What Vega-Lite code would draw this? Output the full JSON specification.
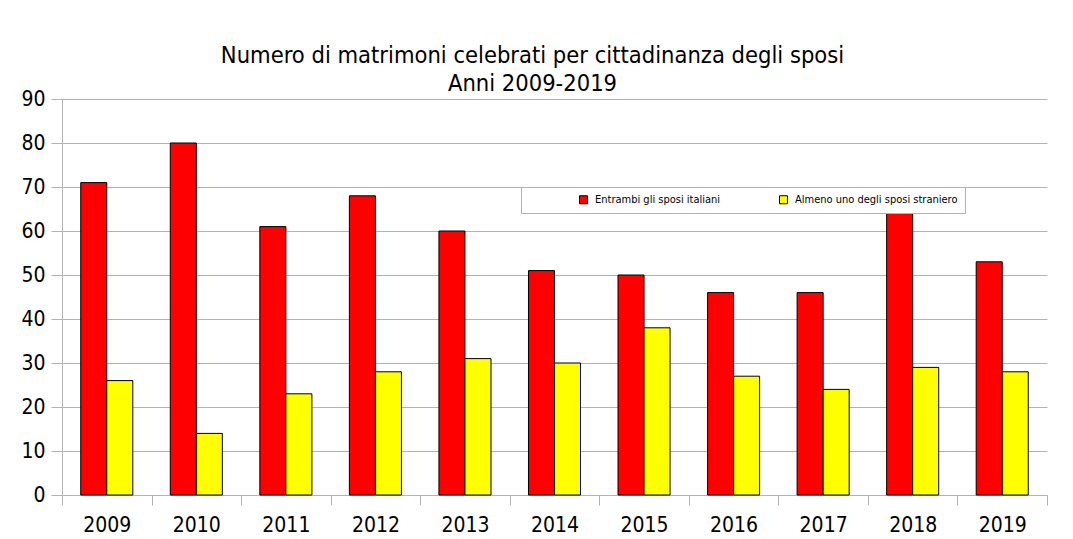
{
  "$schema": "https://vega.github.io/schema/vega-lite/v6.json",
  "width": 985,
  "height": 396,
  "autosize": {"type": "none"},
  "padding": {"left": 62, "top": 99, "right": 26, "bottom": 44},
  "background": "white",
  "title": {
    "text": ["Numero di matrimoni celebrati per cittadinanza degli sposi", "Anni 2009-2019"],
    "font": "DejaVu Sans Condensed",
    "fontSize": 23.5,
    "fontWeight": "normal",
    "color": "black",
    "lineHeight": 28,
    "offset": -7,
    "anchor": "middle",
    "dx": -22
  },
  "data": {
    "values": [
      {"anno": "2009", "gruppo": "Entrambi gli sposi italiani", "valore": 71},
      {"anno": "2009", "gruppo": "Almeno uno degli sposi straniero", "valore": 26},
      {"anno": "2010", "gruppo": "Entrambi gli sposi italiani", "valore": 80},
      {"anno": "2010", "gruppo": "Almeno uno degli sposi straniero", "valore": 14},
      {"anno": "2011", "gruppo": "Entrambi gli sposi italiani", "valore": 61},
      {"anno": "2011", "gruppo": "Almeno uno degli sposi straniero", "valore": 23},
      {"anno": "2012", "gruppo": "Entrambi gli sposi italiani", "valore": 68},
      {"anno": "2012", "gruppo": "Almeno uno degli sposi straniero", "valore": 28},
      {"anno": "2013", "gruppo": "Entrambi gli sposi italiani", "valore": 60},
      {"anno": "2013", "gruppo": "Almeno uno degli sposi straniero", "valore": 31},
      {"anno": "2014", "gruppo": "Entrambi gli sposi italiani", "valore": 51},
      {"anno": "2014", "gruppo": "Almeno uno degli sposi straniero", "valore": 30},
      {"anno": "2015", "gruppo": "Entrambi gli sposi italiani", "valore": 50},
      {"anno": "2015", "gruppo": "Almeno uno degli sposi straniero", "valore": 38},
      {"anno": "2016", "gruppo": "Entrambi gli sposi italiani", "valore": 46},
      {"anno": "2016", "gruppo": "Almeno uno degli sposi straniero", "valore": 27},
      {"anno": "2017", "gruppo": "Entrambi gli sposi italiani", "valore": 46},
      {"anno": "2017", "gruppo": "Almeno uno degli sposi straniero", "valore": 24},
      {"anno": "2018", "gruppo": "Entrambi gli sposi italiani", "valore": 65},
      {"anno": "2018", "gruppo": "Almeno uno degli sposi straniero", "valore": 29},
      {"anno": "2019", "gruppo": "Entrambi gli sposi italiani", "valore": 53},
      {"anno": "2019", "gruppo": "Almeno uno degli sposi straniero", "valore": 28}
    ]
  },
  "mark": {"type": "bar", "stroke": "black", "strokeWidth": 1},
  "encoding": {
    "x": {
      "field": "anno",
      "type": "nominal",
      "scale": {"paddingInner": 0, "paddingOuter": 0},
      "axis": {
        "title": null,
        "labelAngle": 0,
        "tickBand": "extent",
        "tickSize": 10,
        "tickColor": "#b3b3b3",
        "domainColor": "#b3b3b3",
        "labelFont": "DejaVu Sans Condensed",
        "labelFontSize": 21,
        "labelColor": "black",
        "labelPadding": 9,
        "grid": false
      }
    },
    "xOffset": {
      "field": "gruppo",
      "type": "nominal",
      "sort": ["Entrambi gli sposi italiani", "Almeno uno degli sposi straniero"],
      "scale": {"paddingInner": 0, "paddingOuter": 0.72}
    },
    "y": {
      "field": "valore",
      "type": "quantitative",
      "scale": {"domain": [0, 90], "nice": false},
      "axis": {
        "title": null,
        "values": [0, 10, 20, 30, 40, 50, 60, 70, 80, 90],
        "tickSize": 11,
        "tickColor": "#b3b3b3",
        "domainColor": "#b3b3b3",
        "gridColor": "#b3b3b3",
        "labelFont": "DejaVu Sans Condensed",
        "labelFontSize": 21,
        "labelColor": "black",
        "labelPadding": 6
      }
    },
    "color": {
      "field": "gruppo",
      "type": "nominal",
      "sort": ["Entrambi gli sposi italiani", "Almeno uno degli sposi straniero"],
      "scale": {
        "domain": ["Entrambi gli sposi italiani", "Almeno uno degli sposi straniero"],
        "range": ["#ff0000", "#ffff00"]
      },
      "legend": {
        "title": null,
        "orient": "none",
        "legendX": 459,
        "legendY": 88,
        "direction": "horizontal",
        "fillColor": "white",
        "strokeColor": "#b3b3b3",
        "padding": 7,
        "symbolType": "square",
        "symbolSize": 64,
        "symbolStrokeColor": "black",
        "symbolStrokeWidth": 1,
        "symbolOffset": 50,
        "labelFont": "DejaVu Sans Condensed",
        "labelFontSize": 11,
        "labelColor": "black",
        "labelOffset": 6,
        "labelLimit": 400,
        "columnPadding": 7
      }
    }
  },
  "config": {
    "view": {"stroke": null}
  }
}
